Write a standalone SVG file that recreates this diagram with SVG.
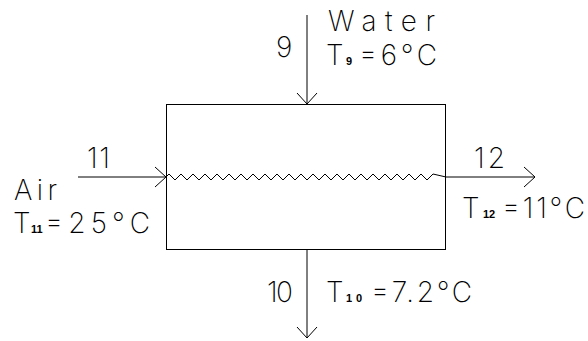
<svg xmlns="http://www.w3.org/2000/svg" width="588" height="341" viewBox="0 0 588 341">
<style>
.ln{fill:none;stroke:#000;stroke-width:1}
.t{font-family:Inter,"DejaVu Sans",sans-serif;font-weight:200;font-size:28px;fill:#000}
.s{font-family:"Liberation Sans",sans-serif;font-weight:bold;font-size:11px;fill:#000}
</style>
<defs>
<marker id="ah" markerUnits="userSpaceOnUse" markerWidth="24" markerHeight="24" viewBox="-12 -12 24 24" refX="0" refY="0" orient="auto" overflow="visible">
<path d="M-11,-10 L0,0 L-11,10" fill="none" stroke="#000" stroke-width="1"/>
</marker>
</defs>
<rect width="588" height="341" fill="#fff"/>
<g id="exchanger">
<rect x="166.5" y="104.5" width="279" height="145" class="ln"/>
<path class="ln" d="M166,177 L169,174 l6,6 l6,-6 l6,6 l6,-6 l6,6 l6,-6 l6,6 l6,-6 l6,6 l6,-6 l6,6 l6,-6 l6,6 l6,-6 l6,6 l6,-6 l6,6 l6,-6 l6,6 l6,-6 l6,6 l6,-6 l6,6 l6,-6 l6,6 l6,-6 l6,6 l6,-6 l6,6 l6,-6 l6,6 l6,-6 l6,6 l6,-6 l6,6 l6,-6 l6,6 l6,-6 l6,6 l6,-6 l6,6 l6,-6 l6,6 l6,-6 L446,177"/>
</g>
<g id="connectors">
<path class="ln" d="M307,15 V104" marker-end="url(#ah)"/>
<path class="ln" d="M307,249 V338" marker-end="url(#ah)"/>
<path class="ln" d="M78,177 H166" marker-end="url(#ah)"/>
<path class="ln" d="M446,177 H535" marker-end="url(#ah)"/>
</g>
<g id="water-in">
<text class="t" x="276" y="57" textLength="17">9</text>
<text class="t" x="328" y="31" textLength="107" lengthAdjust="spacing">Water</text>
<text class="t" x="326" y="65">T</text>
<text class="s" x="346" y="65">9</text>
<text class="t" x="359" y="65" textLength="78" lengthAdjust="spacing">=6°C</text>
</g>
<g id="air-in">
<text class="t" x="87" y="168" textLength="23" lengthAdjust="spacing">11</text>
<text class="t" x="14" y="200" textLength="43" lengthAdjust="spacing">Air</text>
<text class="t" x="13" y="233">T</text>
<text class="s" x="31" y="233">11</text>
<text class="t" x="45" y="233" textLength="105" lengthAdjust="spacing">=25°C</text>
</g>
<g id="air-out">
<text class="t" x="474" y="168" textLength="31" lengthAdjust="spacing">12</text>
<text class="t" x="462" y="218">T</text>
<text class="s" x="483" y="218">12</text>
<text class="t" x="502" y="218" textLength="83" lengthAdjust="spacing">=11°C</text>
</g>
<g id="water-out">
<text class="t" x="267" y="302" textLength="26" lengthAdjust="spacing">10</text>
<text class="t" x="326" y="302">T</text>
<text class="s" x="346" y="302" textLength="16" lengthAdjust="spacing">10</text>
<text class="t" x="371" y="302" textLength="101" lengthAdjust="spacing">=7.2°C</text>
</g>
</svg>
